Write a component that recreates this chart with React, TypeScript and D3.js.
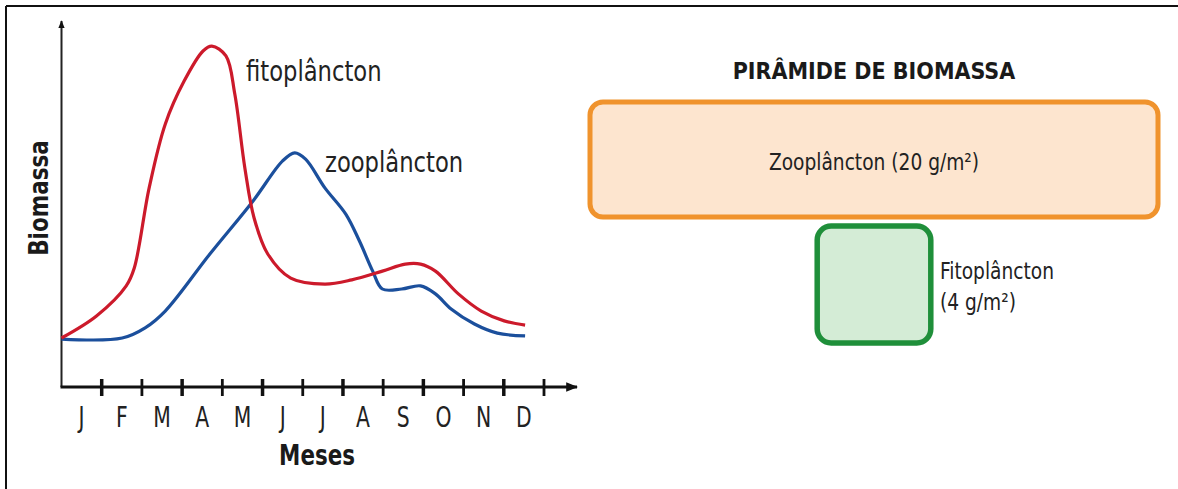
import { useEffect, useRef } from 'react';
import * as d3 from 'd3';

// months on the x axis
const months = ['J', 'F', 'M', 'A', 'M', 'J', 'J', 'A', 'S', 'O', 'N', 'D'];

// fitoplâncton curve (x in months from start of Jan, biomass in arbitrary units)
const fitoX = [0, 0.87, 1.61, 1.81, 2.18, 2.58, 3.05, 3.52, 3.74, 4.09, 4.31, 4.56, 4.79, 5.13, 5.7, 6.55, 7.22, 7.98, 8.55, 8.93, 9.3, 9.87, 10.44, 11.01, 11.53];
const fitoY = [14, 20.3, 28.9, 34, 56.9, 75.1, 87.4, 96, 97.4, 94.6, 83.7, 62.6, 48.3, 38, 31.1, 29.4, 30.6, 33.1, 35.1, 35.1, 33.1, 26.6, 21.7, 18.9, 17.7];

// zooplâncton curve
const zooX = [0, 1.51, 2.08, 2.58, 3.69, 4.76, 5.5, 5.8, 6.07, 6.55, 7.07, 7.41, 7.74, 7.98, 8.46, 8.93, 9.3, 9.69, 10.27, 10.84, 11.53];
const zooY = [13.7, 14, 16.9, 21.7, 38, 53.1, 64.6, 66.9, 65.1, 56.9, 49.4, 41.7, 33.1, 28, 28, 28.9, 26.6, 22.3, 18, 15.4, 14.6];

// biomass pyramid
const pyramidLabels = ['Zooplâncton', 'Fitoplâncton'];
const pyramidValues = [20, 4];

const FONT = "'DejaVu Sans Condensed', 'Liberation Sans Narrow', 'Open Sans', sans-serif";

export default function App() {
  const svgRef = useRef<SVGSVGElement>(null);
  const width = 1178;
  const height = 489;

  useEffect(() => {
    if (!svgRef.current) return;
    const svg = d3.select(svgRef.current);
    svg.selectAll('*').remove();

    // frame (cropped: only top and left visible)
    svg.append('line').attr('x1', 6).attr('y1', 6).attr('x2', width).attr('y2', 6)
      .attr('stroke', '#111').attr('stroke-width', 2);
    svg.append('line').attr('x1', 6).attr('y1', 6).attr('x2', 6).attr('y2', height)
      .attr('stroke', '#111').attr('stroke-width', 2);

    const x0 = 61.5;
    const y0 = 387;
    const x = d3.scaleLinear().domain([0, 12]).range([x0, 544]);
    const y = d3.scaleLinear().domain([0, 100]).range([y0, 37]);
    const band = d3.scaleBand<number>().domain(d3.range(12)).range([x0, 544]);

    const g = svg.append('g');

    // arrow markers
    const defs = svg.append('defs');
    defs.append('marker')
      .attr('id', 'arrow')
      .attr('viewBox', '0 0 10 10')
      .attr('refX', 9).attr('refY', 5)
      .attr('markerWidth', 4).attr('markerHeight', 4)
      .attr('orient', 'auto')
      .append('path').attr('d', 'M0,1 L10,5 L0,9 Z').attr('fill', '#111');

    // axes
    g.append('line').attr('x1', x0).attr('y1', y0).attr('x2', x0).attr('y2', 21)
      .attr('stroke', '#222').attr('stroke-width', 2).attr('marker-end', 'url(#arrow)');
    g.append('line').attr('x1', x0 - 1).attr('y1', y0).attr('x2', 577).attr('y2', y0)
      .attr('stroke', '#111').attr('stroke-width', 3).attr('marker-end', 'url(#arrow)');

    // ticks at month ends
    months.forEach((_, i) => {
      const tx = (band(i) ?? 0) + band.bandwidth();
      g.append('line').attr('x1', tx).attr('x2', tx).attr('y1', y0 - 8).attr('y2', y0 + 9)
        .attr('stroke', '#111').attr('stroke-width', i % 2 === 0 ? 3.5 : 2.8);
    });

    // month labels (tall, narrow lettering)
    g.selectAll('text.month').data(months).join('text')
      .attr('class', 'month')
      .attr('transform', (_, i) => `translate(${(band(i) ?? 0) + band.bandwidth() / 2},427) scale(0.78,1)`)
      .attr('text-anchor', 'middle')
      .attr('fill', '#222')
      .style('font-family', FONT)
      .style('font-size', '29px')
      .text(d => d);

    // axis titles
    g.append('text').attr('transform', 'translate(317,465) scale(0.85,1)').attr('text-anchor', 'middle')
      .attr('fill', '#1a1a1a').style('font-family', FONT).style('font-weight', 'bold')
      .style('font-size', '28px').text('Meses');
    g.append('text').attr('transform', 'translate(48,198) rotate(-90) scale(0.92,1)').attr('text-anchor', 'middle')
      .attr('fill', '#1a1a1a').style('font-family', FONT).style('font-weight', 'bold')
      .style('font-size', '26px').text('Biomassa');

    // curves
    const line = d3.line<[number, number]>()
      .x(d => x(d[0]))
      .y(d => y(d[1]))
      .curve(d3.curveCatmullRom.alpha(0.5));

    const fito = fitoX.map((v, i) => [v, fitoY[i]] as [number, number]);
    const zoo = zooX.map((v, i) => [v, zooY[i]] as [number, number]);

    g.append('path').datum(zoo).attr('d', line).attr('fill', 'none')
      .attr('stroke', '#1b4f9c').attr('stroke-width', 3.2);
    g.append('path').datum(fito).attr('d', line).attr('fill', 'none')
      .attr('stroke', '#cc1a2b').attr('stroke-width', 3.2);

    // curve labels
    g.append('text').attr('transform', 'translate(246,81) scale(0.9,1)').attr('fill', '#222')
      .style('font-family', FONT).style('font-size', '28px').text('fitoplâncton');
    g.append('text').attr('transform', 'translate(325,172) scale(0.9,1)').attr('fill', '#222')
      .style('font-family', FONT).style('font-size', '28px').text('zooplâncton');

    // biomass pyramid
    const cx = 874;
    const w = d3.scaleLinear().domain([0, 20]).range([0, 568]);

    svg.append('text').attr('x', cx).attr('y', 79).attr('text-anchor', 'middle')
      .attr('fill', '#1a1a1a').style('font-family', FONT).style('font-weight', 'bold')
      .style('font-size', '23px').text('PIRÂMIDE DE BIOMASSA');

    const zw = w(pyramidValues[0]);
    svg.append('rect').attr('x', cx - zw / 2).attr('y', 102).attr('width', zw).attr('height', 115)
      .attr('rx', 13).attr('fill', '#fde5cf').attr('stroke', '#f0932d').attr('stroke-width', 5);
    svg.append('text').attr('transform', `translate(${cx},170) scale(0.9,1)`).attr('text-anchor', 'middle')
      .attr('fill', '#222').style('font-family', FONT).style('font-size', '23px')
      .text(`${pyramidLabels[0]} (${pyramidValues[0]} g/m²)`);

    const fw = w(pyramidValues[1]);
    svg.append('rect').attr('x', cx - fw / 2).attr('y', 226).attr('width', fw).attr('height', 117)
      .attr('rx', 14).attr('fill', '#d4ecd6').attr('stroke', '#1f8f3a').attr('stroke-width', 5.5);
    const ft = svg.append('g').attr('transform', 'translate(940,0) scale(0.9,1)');
    ft.append('text').attr('x', 0).attr('y', 279).attr('fill', '#222')
      .style('font-family', FONT).style('font-size', '23px').text(pyramidLabels[1]);
    ft.append('text').attr('x', 0).attr('y', 310).attr('fill', '#222')
      .style('font-family', FONT).style('font-size', '23px').text(`(${pyramidValues[1]} g/m²)`);
  }, []);

  return (
    <svg
      ref={svgRef}
      width={width}
      height={height}
      viewBox={`0 0 ${width} ${height}`}
      style={{ position: 'absolute', left: 0, top: 0, background: '#fff' }}
    />
  );
}
